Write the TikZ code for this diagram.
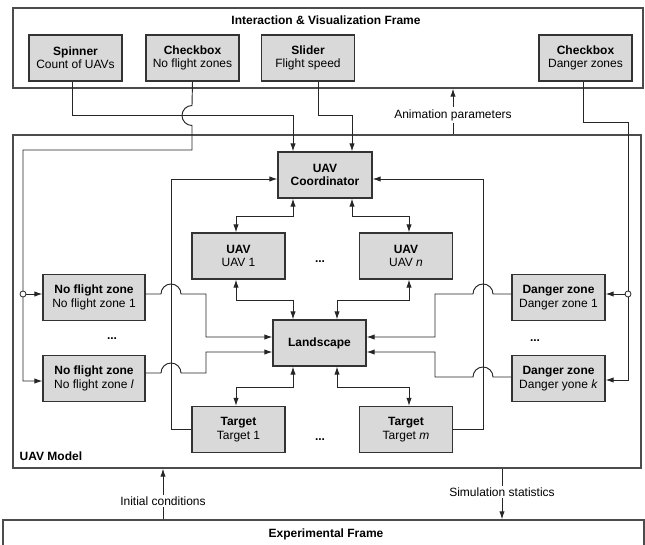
\documentclass[tikz,border=0pt]{standalone}
\usepackage{fontspec}
\setmainfont{Liberation Sans}
\usepackage{tikz}
\usetikzlibrary{arrows.meta}
\tikzstyle{block} = [rectangle, minimum width=69.75pt, minimum height=34.5pt, inner sep=1pt, align=center, draw=black!80, fill=black!15, line width=0.9pt]
\tikzstyle{frame} = [rectangle, draw=black!70, line width=1pt]
\tikzstyle{wire} = [draw=black!85, line width=0.7pt]
\tikzstyle{arrow} = [wire, -{Latex[length=6pt,width=4pt]}]
\tikzstyle{biarrow} = [wire, {Latex[length=6pt,width=4pt]}-{Latex[length=6pt,width=4pt]}]
\tikzstyle{note} = [fill=white, inner sep=1.5pt]
\tikzstyle{junction} = [circle, draw=black!85, fill=white, line width=0.6pt, inner sep=0pt, minimum size=4.5pt]

\begin{document}
\begin{tikzpicture}[x=0.75pt, y=-0.75pt, font=\fontsize{9}{10}\selectfont]
    \useasboundingbox (0,0) rectangle (645,545);

    % frames
    \node (ivf) [frame, minimum width=472.5pt, minimum height=60pt] at (328,48) {};
    \node (model) [frame, minimum width=471pt, minimum height=249.75pt] at (327,301.5) {};
    \node (expf) [frame, minimum width=480.75pt, minimum height=37.5pt] at (323.5,545) {};
    \node (ivftitle) at (326,20) {\textbf{Interaction \& Visualization Frame}};
    \node (modeltitle) [anchor=west] at (15,456) {\textbf{UAV Model}};
    \node (expftitle) at (326,534) {\textbf{Experimental Frame}};

    % widgets
    \node (spin) [block] at (75.5,58) {\textbf{Spinner}\\Count of UAVs};
    \node (chknfz) [block] at (192.5,58) {\textbf{Checkbox}\\No flight zones};
    \node (slider) [block] at (308,58) {\textbf{Slider}\\Flight speed};
    \node (chkdz) [block] at (585.5,58) {\textbf{Checkbox}\\Danger zones};

    % model
    \node (coord) [block, minimum width=70.5pt] at (325,175) {\textbf{UAV}\\\textbf{Coordinator}};
    \node (uav1) [block] at (238.5,256) {\textbf{UAV}\\UAV 1};
    \node (uavn) [block] at (406,256) {\textbf{UAV}\\UAV \textit{n}};
    \node (land) [block] at (319.5,343) {\textbf{Landscape}};
    \node (tgt1) [block] at (238.5,429.5) {\textbf{Target}\\Target 1};
    \node (tgtm) [block] at (406,429.5) {\textbf{Target}\\Target \textit{m}};
    \node (nfz1) [block, minimum width=76.5pt] at (94,297.5) {\textbf{No flight zone}\\No flight zone 1};
    \node (nfzl) [block, minimum width=76.5pt] at (94,378.5) {\textbf{No flight zone}\\No flight zone \textit{l}};
    \node (dz1) [block] at (558.5,297.5) {\textbf{Danger zone}\\Danger zone 1};
    \node (dzk) [block] at (558.5,378.5) {\textbf{Danger zone}\\Danger yone \textit{k}};
    \node (dotsu) at (320,262) {\textbf{...}};
    \node (dotst) at (320,440) {\textbf{...}};
    \node (dotsn) at (112,339) {\textbf{...}};
    \node (dotsd) at (535,341) {\textbf{...}};

    \coordinate (jl) at (23,294);
    \coordinate (jr) at (628,294);

    % widgets to model
    \draw [arrow] (spin.south -| 72,0) |- (293,115) -- (coord.north -| 293,0);
    \draw [arrow] (slider.south -| 318,0) |- (352,115) -- (coord.north -| 352,0);
    \draw [arrow] (chknfz.south) -- (192,105.5) arc[start angle=270, end angle=90, radius=10] -- (192,150) -| (23,381) -- (nfzl.west |- 0,381);
    \draw [arrow] (jl) -- (nfz1.west |- jl);
    \draw [arrow] (chkdz.south -| 583,0) |- (628,122) -- (628,380) -- (dzk.east |- 0,380);
    \draw [arrow] (jr) -- (dz1.east |- jr);

    % coordinator, uavs, landscape, targets
    \draw [biarrow] (coord.south -| 293,0) |- (236,216) -- (uav1.north -| 236,0);
    \draw [biarrow] (coord.south -| 352,0) |- (409,216) -- (uavn.north -| 409,0);
    \draw [biarrow] (uav1.south -| 236,0) |- (293,300) -- (land.north -| 293,0);
    \draw [biarrow] (uavn.south -| 409,0) |- (337,300) -- (land.north -| 337,0);
    \draw [biarrow] (land.south -| 293,0) |- (236,387) -- (tgt1.north -| 236,0);
    \draw [biarrow] (land.south -| 337,0) |- (409,387) -- (tgtm.north -| 409,0);
    \draw [arrow] (tgt1.west) -| (171,179) -- (coord.west |- 0,179);
    \draw [arrow] (tgtm.east) -| (483,179) -- (coord.east |- 0,179);

    % zones to landscape
    \draw [arrow] (nfz1.east |- 0,294) -- (161,294) arc[start angle=180, end angle=360, radius=10] -| (206,337) -- (land.west |- 0,337);
    \draw [arrow] (nfzl.east |- 0,373) -- (161,373) arc[start angle=180, end angle=360, radius=10] -| (206,352) -- (land.west |- 0,352);
    \draw [arrow] (dz1.west |- 0,294) -- (493,294) arc[start angle=360, end angle=180, radius=10] -| (435,337) -- (land.east |- 0,337);
    \draw [arrow] (dzk.west |- 0,377) -- (493,377) arc[start angle=360, end angle=180, radius=10] -| (435,352) -- (land.east |- 0,352);

    \node (jlc) [junction] at (jl) {};
    \node (jrc) [junction] at (jr) {};

    % frame links
    \draw [arrow] (model.north -| 453,0) -- (ivf.south -| 453,0);
    \node (animp) [note] at (453,115) {Animation parameters};
    \draw [arrow] (expf.north -| 163,0) -- (model.south -| 163,0);
    \node (initc) [note] at (163,501) {Initial conditions};
    \draw [arrow] (model.south -| 502,0) -- (expf.north -| 502,0);
    \node (simst) [note] at (502,492) {Simulation statistics};
\end{tikzpicture}
\end{document}
